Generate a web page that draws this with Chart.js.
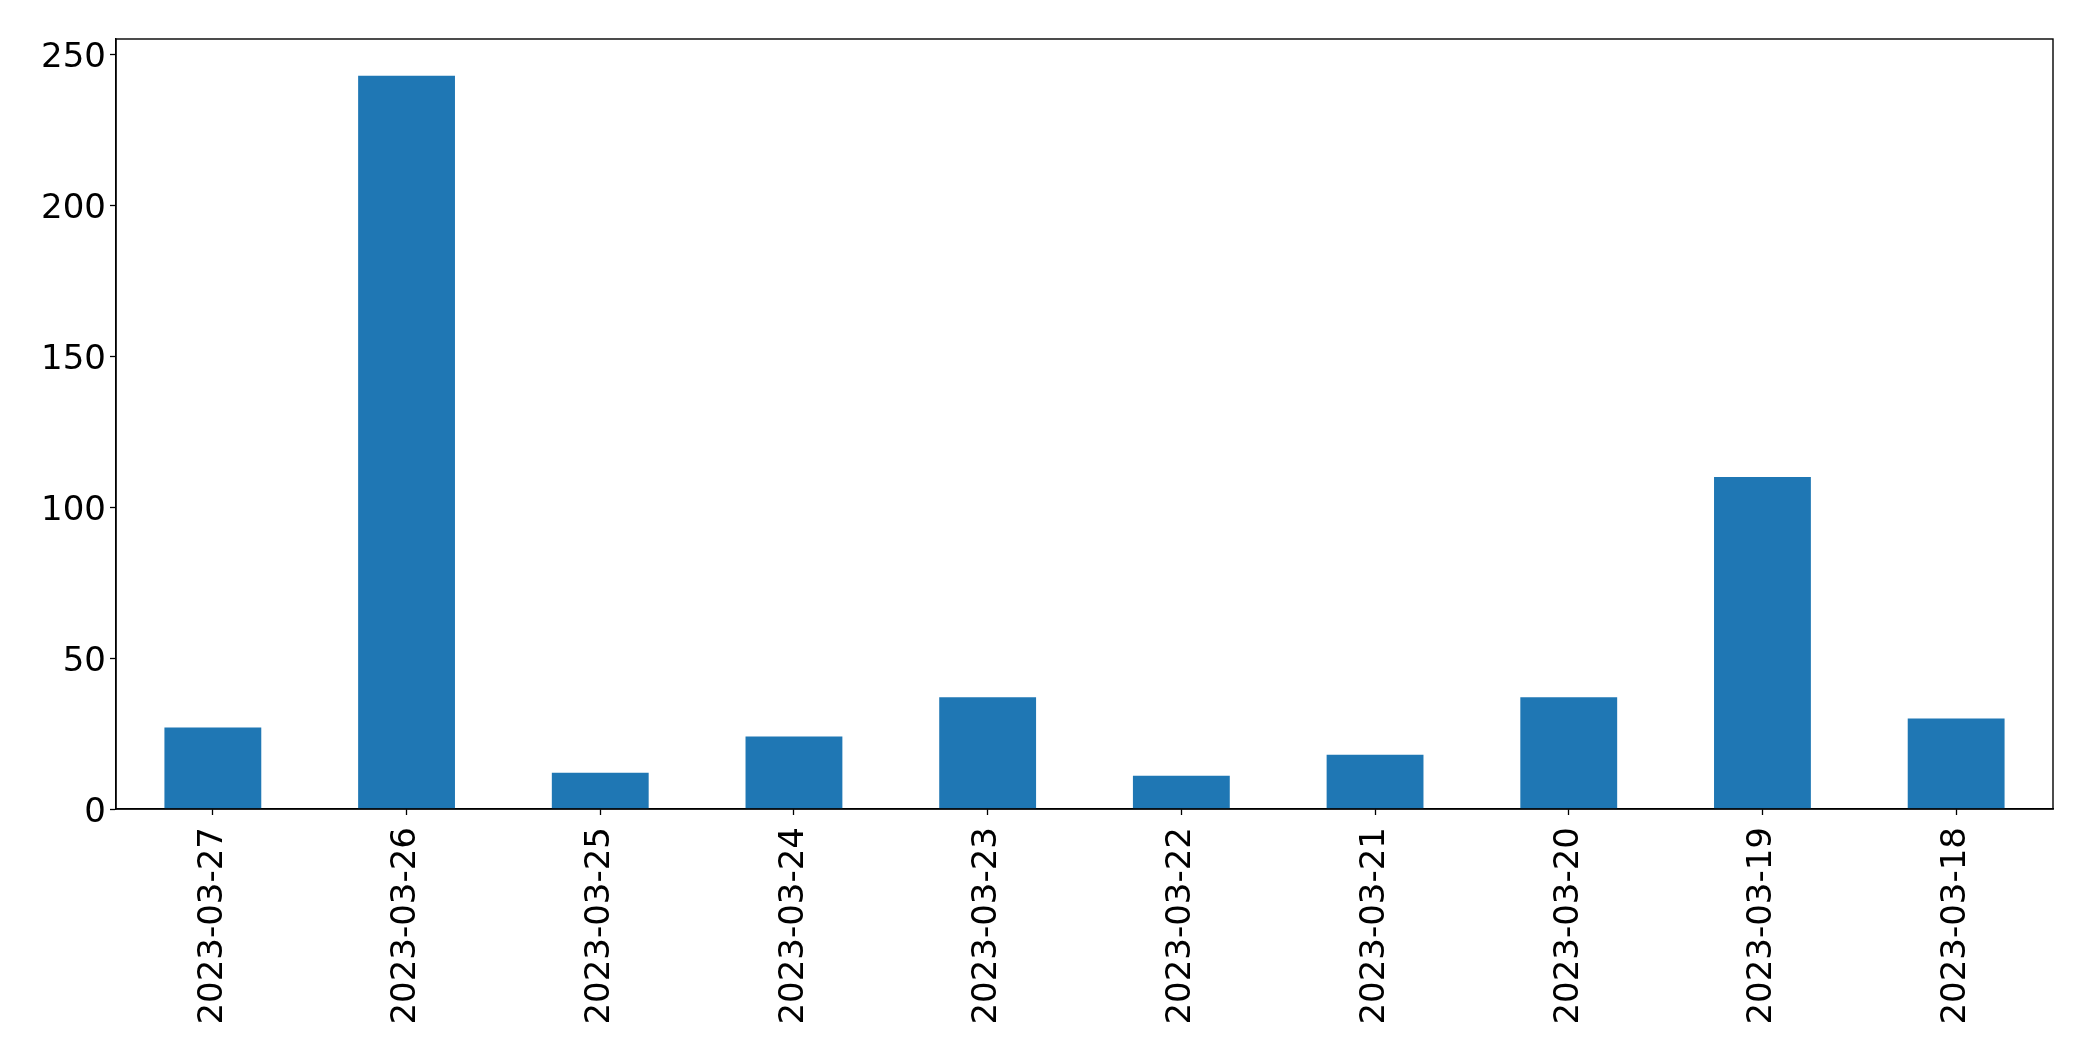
<!DOCTYPE html>
<html>
<head>
<meta charset="utf-8">
<script src="https://cdn.jsdelivr.net/npm/chart.js@4"></script>
<style>
  html, body { margin: 0; padding: 0; background: #fff; }
  canvas { display: block; }
</style>
</head>
<body>
<canvas id="myChart" width="2093" height="1061"></canvas>
<script>
var dates = ["2023-03-27", "2023-03-26", "2023-03-25", "2023-03-24", "2023-03-23",
             "2023-03-22", "2023-03-21", "2023-03-20", "2023-03-19", "2023-03-18"];
var counts = [27, 243, 12, 24, 37, 11, 18, 37, 110, 30];
var yTicks = [0, 50, 100, 150, 200, 250];

Chart.defaults.color = "#000";
Chart.defaults.font.family = "'DejaVu Sans', sans-serif";

// draws the top and right edge of the box, like matplotlib's frame
var frame = {
    id: "frame",
    afterDraw: function (chart) {
        var a = chart.chartArea;
        var ctx = chart.ctx;
        ctx.save();
        ctx.strokeStyle = "#000";
        ctx.lineWidth = 1.4;
        ctx.strokeRect(a.left, a.top, a.right - a.left, a.bottom - a.top);
        ctx.restore();
    }
};

var ctx = document.getElementById("myChart").getContext("2d");
var myChart = new Chart(ctx, {
    type: "bar",
    data: {
        labels: dates,
        datasets: [{
            data: counts,
            backgroundColor: "#1f77b4",
            borderWidth: 0,
            barPercentage: 0.5,
            categoryPercentage: 1.0
        }]
    },
    options: {
        responsive: false,
        animation: false,
        layout: { padding: { left: 0, top: 39, right: 40, bottom: 0 } },
        plugins: {
            legend: { display: false },
            tooltip: { enabled: false }
        },
        scales: {
            x: {
                grid: { offset: false, drawOnChartArea: false, tickLength: 6, color: "#000", tickWidth: 1.3 },
                border: { color: "#000", width: 1.4 },
                ticks: {
                    autoSkip: false,
                    minRotation: 90,
                    maxRotation: 90,
                    padding: 12,
                    font: { size: 34 }
                },
                afterFit: function (scale) { scale.height = 252; }
            },
            y: {
                min: 0,
                max: 255.15,
                grid: { drawOnChartArea: false, tickLength: 6, color: "#000", tickWidth: 1.3 },
                border: { color: "#000", width: 1.4 },
                ticks: {
                    stepSize: 50,
                    includeBounds: false,
                    padding: 4,
                    labelOffset: 4,
                    font: { size: 34 }
                },
                afterBuildTicks: function (scale) {
                    scale.ticks = yTicks.map(function (v) { return { value: v }; });
                },
                afterFit: function (scale) { scale.width = 116; }
            }
        }
    },
    plugins: [frame]
});
</script>
</body>
</html>
